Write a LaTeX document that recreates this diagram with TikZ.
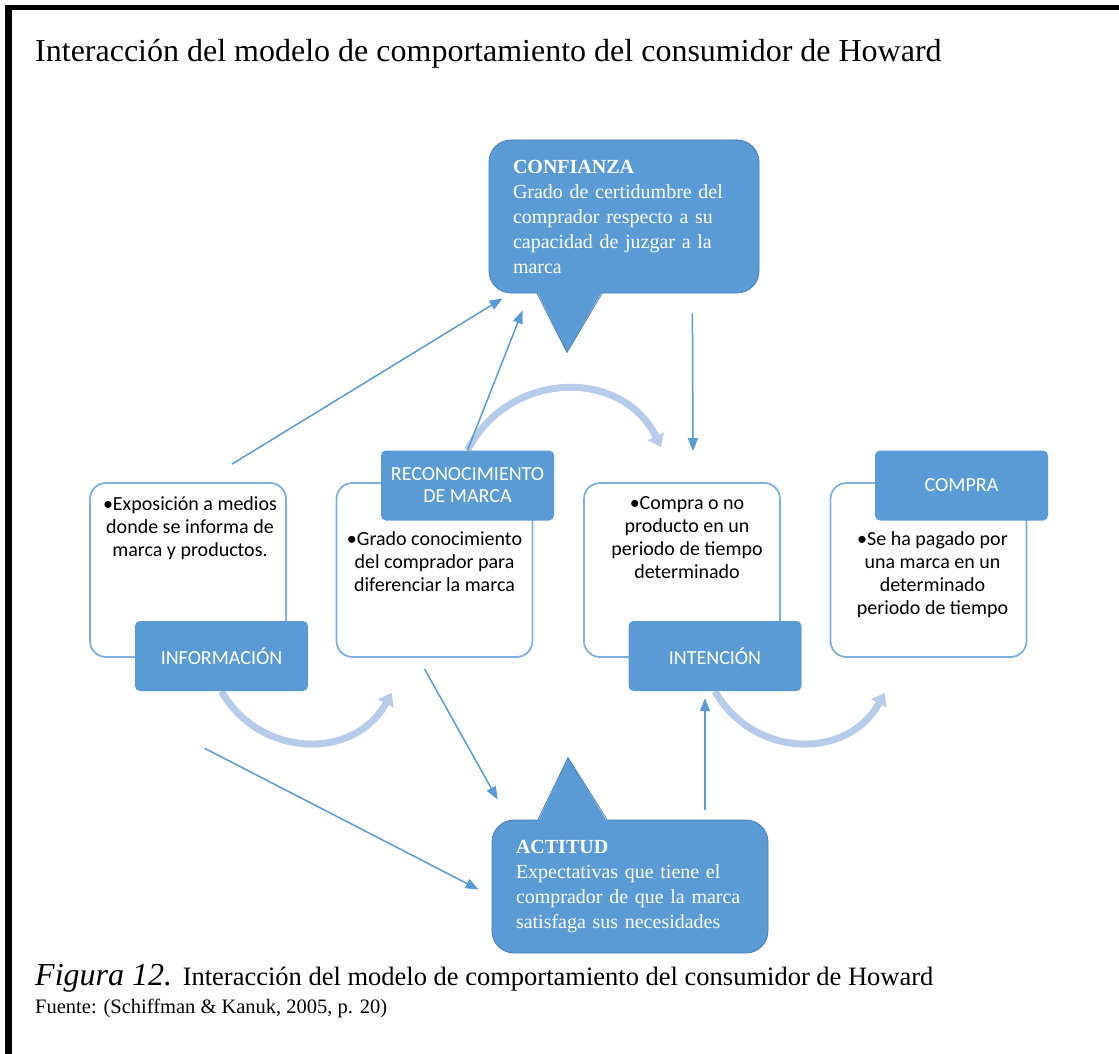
\documentclass[tikz,border=0pt]{standalone}
\usepackage{fontspec}
\setmainfont{Liberation Serif}
\newfontfamily\calibri{Carlito}
\usetikzlibrary{shapes,arrows.meta,positioning}
\definecolor{boxblue}{HTML}{5B9BD5}
\definecolor{edgeblue}{HTML}{7FB0DE}
\definecolor{flowblue}{HTML}{B7CCEA}
\definecolor{callline}{HTML}{4A7DB5}
\pgfdeclarelayer{bg}
\pgfsetlayers{bg,main}
\tikzstyle{lbl}=[rectangle,fill=boxblue,rounded corners=5pt,align=center,text=white,minimum width=173pt,minimum height=70pt,font=\calibri\fontsize{20}{22}\selectfont]
\tikzstyle{wbox}=[rectangle,draw=edgeblue,line width=1.8pt,rounded corners=16pt,minimum width=196pt,minimum height=174pt]
\tikzstyle{wtxt}=[align=center,inner sep=0pt,font=\calibri\fontsize{20}{23}\selectfont]
\tikzstyle{callbox}=[rectangle,fill=boxblue,draw=callline,line width=0.8pt,rounded corners=22pt,align=left,text=white,inner xsep=24pt,font=\fontsize{20}{25}\selectfont]
\tikzstyle{tail}=[fill=boxblue]
\tikzstyle{arr}=[-{Triangle[length=13pt,width=10pt]},boxblue,line width=1.5pt]
\tikzstyle{flow}=[-{Triangle[length=12pt,width=17pt]},flowblue,line width=7pt]

\begin{document}
\begin{tikzpicture}[x=1pt,y=-1pt]
\useasboundingbox (0,0) rectangle (1119,1054);
% frame
\fill (5,5) rectangle (1119,10);
\fill (5,5) rectangle (12,1054);
\node[anchor=base west,inner sep=0pt,font=\fontsize{32}{36}\selectfont] (title) at (35,62) {Interacción del modelo de comportamiento del consumidor de Howard};

% white boxes
\node[wbox] (infobox) at (188,570) {};
\node[wbox] (reconbox) at (434.5,570) {};
\node[wbox] (intentbox) at (682,570) {};
\node[wbox] (comprabox) at (928.5,570) {};
\node[wtxt, below=14pt of infobox.north, xshift=2pt] (infotxt) {•Exposición a medios\\donde se informa de\\marca y productos.};
\node[wtxt, below=49pt of reconbox.north] (recontxt) {•Grado conocimiento\\del comprador para\\diferenciar la marca};
\node[wtxt, below=14pt of intentbox.north, xshift=5pt] (intenttxt) {•Compra o no\\producto en un\\periodo de tiempo\\determinado};
\node[wtxt, below=49pt of comprabox.north, xshift=4pt] (compratxt) {•Se ha pagado por\\una marca en un\\determinado\\periodo de tiempo};

% labels
\node[lbl] (info) at (221.5,656) {INFORMACIÓN};
\node[lbl] (recon) at (467.5,485.5) {RECONOCIMIENTO\\DE MARCA};
\node[lbl] (intent) at (715,656) {INTENCIÓN};
\node[lbl] (compra) at (961.5,485.5) {COMPRA};

% callouts
\node[callbox,text width=222pt,minimum height=153pt] (conf) at (624,216.5) {\textbf{CONFIANZA}\\Grado de certidumbre del\\comprador respecto a su\\capacidad de juzgar a la\\marca};
\fill[tail] (conf.south) ++(-87,-2) -- ++(30,61) -- ++(35,-61) -- cycle;
\draw[callline,line width=0.8pt] (conf.south) ++(-87,0) -- ++(30,59) -- ++(35,-59);
\node[callbox,text width=228pt,minimum height=133pt] (act) at (630,886.5) {\textbf{ACTITUD}\\Expectativas que tiene el\\comprador de que la marca\\satisfaga sus necesidades};
\fill[tail] (act.north) ++(-92,2) -- ++(30,-64) -- ++(39,64) -- cycle;
\draw[callline,line width=0.8pt] (act.north) ++(-92,0) -- ++(30,-62) -- ++(39,62);

% thin arrows
\draw[arr] ([xshift=44pt,yshift=18pt]infobox.north) -- ([xshift=14pt,yshift=-5pt]conf.south west);
\draw[arr] (recon.north) -- ([xshift=34pt,yshift=-17pt]conf.south west);
\draw[arr] ([xshift=-67pt,yshift=-20pt]conf.south east) -- ([xshift=11pt,yshift=31pt]intentbox.north);
\draw[arr] ([xshift=-10pt,yshift=-11pt]reconbox.south) -- ([xshift=6pt,yshift=20pt]act.north west);
\draw[arr] ([xshift=-17pt,yshift=-57pt]info.south) -- ([xshift=-13pt,yshift=-3pt]act.west);
\draw[arr] ([xshift=75pt,yshift=10pt]act.north) -- ([xshift=-10pt,yshift=-7pt]intent.south);

% curved flows
\begin{pgfonlayer}{bg}
\draw[flow] (info.south) .. controls +(38,67) and +(-37,68) .. ([xshift=56pt,yshift=-35pt]reconbox.south west);
\draw[flow] (recon.north) .. controls +(41,-80) and +(-39,-80) .. ([xshift=78pt,yshift=35pt]intentbox.north west);
\draw[flow] (intent.south) .. controls +(38,67) and +(-37,68) .. ([xshift=55pt,yshift=-35pt]comprabox.south west);
\end{pgfonlayer}

% caption
\node[anchor=base west,inner sep=0pt] (cap) at (35,985) {\fontsize{32}{36}\selectfont\itshape Figura 12. \fontsize{26.5}{30}\selectfont\upshape Interacción del modelo de comportamiento del consumidor de Howard};
\node[anchor=base west,inner sep=0pt,font=\fontsize{20.5}{24}\selectfont] (src) at (35,1013) {Fuente: (Schiffman \& Kanuk, 2005, p. 20)};
\end{tikzpicture}
\end{document}
